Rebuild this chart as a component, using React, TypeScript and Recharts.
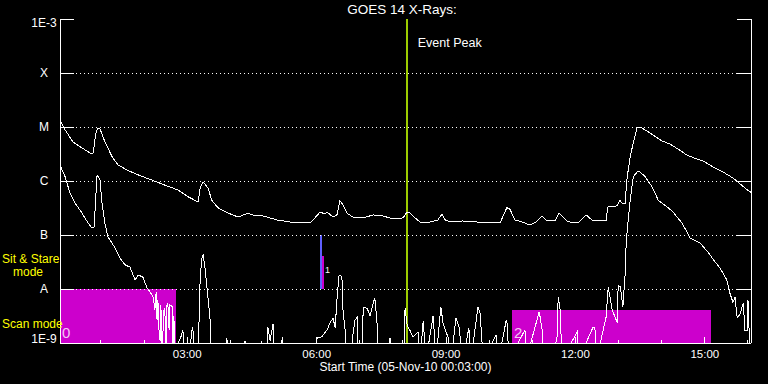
import React from 'react';
import { ComposedChart, Line, XAxis, YAxis, ReferenceArea, ReferenceLine } from 'recharts';

const FONT = '"Liberation Sans", Arial, sans-serif';

// Long channel (1-8 Å) — hours since 05-Nov-10 00:00, flux W/m²
const longTime = [0.07, 0.17, 0.35, 0.56, 0.77, 0.82, 0.88, 0.93, 0.98, 1.09, 1.26, 1.39, 1.6, 1.86, 2.18, 2.48, 2.79, 3.02, 3.25, 3.3, 3.37, 3.48, 3.57, 3.71, 3.95, 4.18, 4.41, 4.57, 4.76, 5.08, 5.38, 5.68, 5.85, 5.96, 6.08, 6.19, 6.24, 6.38, 6.47, 6.54, 6.61, 6.7, 6.84, 7.07, 7.31, 7.54, 7.77, 8.0, 8.1, 8.16, 8.28, 8.4, 8.63, 8.81, 8.91, 8.98, 9.1, 9.39, 9.72, 10.09, 10.25, 10.41, 10.48, 10.6, 10.76, 10.95, 11.09, 11.23, 11.34, 11.53, 11.62, 11.81, 11.95, 12.06, 12.25, 12.38, 12.57, 12.71, 12.75, 12.96, 13.03, 13.08, 13.15, 13.2, 13.27, 13.34, 13.43, 13.5, 13.66, 13.8, 14.01, 14.19, 14.38, 14.59, 14.82, 14.96, 15.19, 15.42, 15.65, 15.82, 16.02, 16.07];
const longFlux = [1.24e-5, 8.8e-6, 5.3e-6, 4.1e-6, 3.2e-6, 3.3e-6, 7.7e-6, 9.6e-6, 9.2e-6, 5.3e-6, 2.8e-6, 2.0e-6, 1.6e-6, 1.3e-6, 1.04e-6, 8.4e-7, 6.8e-7, 5.1e-7, 4.1e-7, 7.4e-7, 9.6e-7, 7.4e-7, 4.4e-7, 3.2e-7, 2.55e-7, 2.15e-7, 2.55e-7, 2.25e-7, 2.25e-7, 1.9e-7, 1.74e-7, 1.67e-7, 1.67e-7, 2.07e-7, 2.67e-7, 2.45e-7, 2.67e-7, 2.15e-7, 2.35e-7, 4.3e-7, 3.6e-7, 2.55e-7, 2.15e-7, 2.07e-7, 2.35e-7, 2.25e-7, 1.98e-7, 2.07e-7, 2.67e-7, 2.55e-7, 2.07e-7, 1.74e-7, 1.74e-7, 1.9e-7, 2.45e-7, 1.9e-7, 1.74e-7, 1.82e-7, 1.74e-7, 1.67e-7, 1.67e-7, 3.2e-7, 3.0e-7, 1.9e-7, 1.74e-7, 1.53e-7, 1.74e-7, 2.25e-7, 1.82e-7, 1.82e-7, 2.55e-7, 1.82e-7, 1.67e-7, 1.67e-7, 2.35e-7, 1.9e-7, 1.82e-7, 1.82e-7, 3.3e-7, 3.45e-7, 4.4e-7, 3.9e-7, 3.9e-7, 1.19e-6, 2.8e-6, 5.1e-6, 9.6e-6, 1.0e-5, 8.4e-6, 7.1e-6, 5.5e-6, 4.84e-6, 3.9e-6, 3.0e-6, 2.55e-6, 2.35e-6, 1.82e-6, 1.47e-6, 1.14e-6, 8.8e-7, 6.5e-7, 6.2e-7];

// Short channel (0.5-4 Å)
const shortTime = [0.07, 0.17, 0.28, 0.4, 0.56, 0.7, 0.79, 0.84, 0.88, 0.91, 0.98, 1.02, 1.09, 1.16, 1.21, 1.33, 1.44, 1.56, 1.67, 1.79, 1.86, 1.97, 2.07, 2.14, 2.21, 2.25, 2.28, 2.3, 2.32, 2.35, 2.37, 2.39, 2.41, 2.46, 2.48, 2.51, 2.53, 2.55, 2.58, 2.6, 2.65, 2.67, 2.69, 2.72, 2.79, 2.86, 2.9, 2.93, 3.07, 3.11, 3.13, 3.16, 3.25, 3.3, 3.34, 3.37, 3.41, 3.48, 3.53, 3.55, 3.9, 3.92, 3.94, 4.32, 4.34, 4.36, 4.71, 4.73, 4.76, 4.85, 4.87, 4.92, 4.99, 5.03, 5.18, 5.2, 5.24, 5.98, 6.01, 6.12, 6.24, 6.31, 6.38, 6.43, 6.47, 6.52, 6.57, 6.59, 6.61, 6.66, 6.7, 6.82, 6.84, 6.89, 6.94, 6.96, 7.05, 7.08, 7.17, 7.24, 7.31, 7.35, 7.4, 7.42, 7.68, 7.7, 7.75, 8.02, 8.05, 8.1, 8.16, 8.23, 8.35, 8.4, 8.47, 8.54, 8.7, 8.77, 8.88, 8.93, 9.05, 9.12, 9.23, 9.3, 9.39, 9.53, 9.58, 9.74, 9.79, 9.86, 10.16, 10.22, 10.39, 10.41, 10.46, 10.83, 10.86, 11.16, 11.23, 11.27, 11.57, 11.6, 11.64, 11.69, 12.04, 12.08, 12.4, 12.45, 12.49, 12.71, 12.76, 12.8, 12.85, 12.92, 12.97, 12.99, 13.04, 13.08, 13.1, 13.15, 13.17, 13.2, 13.27, 13.34, 13.43, 13.5, 13.62, 13.78, 13.92, 14.13, 14.26, 14.47, 14.66, 14.89, 15.07, 15.24, 15.35, 15.42, 15.51, 15.58, 15.65, 15.7, 15.75, 15.82, 15.89, 15.93, 15.98, 16.0, 16.05];
const shortFlux = [1.82e-6, 1.19e-6, 6.0e-7, 3.9e-7, 2.55e-7, 1.67e-7, 1.35e-7, 1.4e-7, 5.1e-7, 1.3e-6, 1.04e-6, 4.1e-7, 1.67e-7, 9.2e-8, 8.1e-8, 5.7e-8, 3.75e-8, 2.8e-8, 2.55e-8, 1.47e-8, 1.82e-8, 1.67e-8, 1.04e-8, 8.8e-9, 7.1e-9, 4.1e-9, 8.8e-9, 2.67e-9, 6.25e-9, 1.4e-9, 1.1e-9, 5.1e-9, 5e-10, 4.1e-9, 4.4e-9, 5e-10, 5.1e-9, 5.5e-9, 1.74e-9, 5.1e-9, 4.7e-9, 5e-10, 3.2e-9, 5e-10, 1.0e-9, 1.35e-9, 1.74e-9, 5e-10, 9e-10, 1.74e-9, 1.98e-9, 5e-10, 5e-10, 1.6e-8, 3.75e-8, 4.27e-8, 2.55e-8, 7.1e-9, 2.67e-9, 5e-10, 5e-10, 1.24e-9, 5e-10, 5e-10, 1.1e-9, 5e-10, 5e-10, 1.1e-9, 5e-10, 5e-10, 1.98e-9, 1.1e-9, 2.25e-9, 5e-10, 5e-10, 1.3e-9, 5e-10, 5e-10, 1.24e-9, 1.3e-9, 1.74e-9, 2.35e-9, 2.9e-9, 1.9e-9, 6.25e-9, 1.82e-8, 1.74e-8, 1.47e-8, 4.1e-9, 1.74e-9, 5e-10, 5e-10, 1.4e-9, 2.67e-9, 3.0e-9, 5e-10, 5e-10, 4.64e-9, 4.4e-9, 3.2e-9, 5.5e-9, 6.8e-9, 2.35e-9, 5e-10, 5e-10, 1.24e-9, 5e-10, 5e-10, 4.4e-9, 2.1e-9, 1.74e-9, 1.3e-9, 1.6e-9, 5e-10, 2.5e-9, 5e-10, 3.2e-9, 5e-10, 4.64e-9, 2.35e-9, 1.24e-9, 5e-10, 2.9e-9, 1.98e-9, 5e-10, 1.9e-9, 5e-10, 4.64e-9, 3.6e-9, 5e-10, 1.4e-9, 5e-10, 2.5e-9, 2.67e-9, 5e-10, 1.74e-9, 5e-10, 3.8e-9, 1.74e-9, 5e-10, 1.1e-9, 7.1e-9, 4.64e-9, 5e-10, 1.6e-9, 5e-10, 1.9e-9, 1.98e-9, 5e-10, 3.0e-9, 1.09e-8, 7.1e-9, 4.1e-9, 3.0e-9, 2.35e-9, 1.19e-8, 1.09e-8, 6.25e-9, 4.64e-9, 1.82e-8, 5.3e-8, 1.24e-7, 4.4e-7, 1.19e-6, 1.47e-6, 1.47e-6, 1.19e-6, 7.7e-7, 4.4e-7, 3.3e-7, 2.67e-7, 1.67e-7, 8.8e-8, 7.1e-8, 4.84e-8, 3.16e-8, 2.45e-8, 1.98e-8, 1.47e-8, 8.4e-9, 5.7e-9, 7.0e-9, 2.9e-9, 3.5e-9, 5.5e-9, 1.74e-9, 1.74e-9, 6.25e-9, 5e-10];

// Axis ticks and labels
const yTicks = [1e-9, 1e-8, 1e-7, 1e-6, 1e-5, 1e-4, 1e-3];
const yLabels = ['1E-9', 'A', 'B', 'C', 'M', 'X', '1E-3'];
const gridLevels = [1e-8, 1e-7, 1e-6, 1e-5, 1e-4];
const xTicks = [1, 2, 3, 4, 5, 6, 7, 8, 9, 10, 11, 12, 13, 14, 15, 16];
const xLabelHours = [3, 6, 9, 12, 15];
const xLabelTexts = ['03:00', '06:00', '09:00', '12:00', '15:00'];
const xDomain = [0.05, 16.07];
const yDomain = [1e-9, 1e-3];

// Scan mode intervals
const scanStart = [0.05, 10.53];
const scanEnd = [2.74, 15.14];
const scanTop = [1e-8, 4.08e-9];
const scanIds = ['0', '2'];

// Sit & Stare interval
const stareStart = [6.078, 6.125];
const stareEnd = [6.125, 6.171];
const stareTop = [1e-7, 4.08e-8];
const stareColors = ['#5f5fff', '#cc00cc'];
const stareIds = ['', '1'];

const eventPeak = 8.09;

const longData = longTime.map((t, i) => ({ t, f: longFlux[i] }));
const shortData = shortTime.map((t, i) => ({ t, f: shortFlux[i] }));

function LeftTick(props: any) {
  const { x, y, index } = props;
  const ty = Math.min(Math.max(y, 23), 339);
  return (
    <g>
      <line x1={x} x2={x + 14} y1={y} y2={y} stroke="#fff" />
      <text x={x - 16} y={ty + 4} textAnchor="middle" fill="#fff" fontSize={12} fontFamily={FONT}>{yLabels[index]}</text>
    </g>
  );
}
function RightTick(props: any) {
  const { x, y } = props;
  return <line x1={x - 14} x2={x} y1={y} y2={y} stroke="#fff" />;
}
function BottomTick(props: any) {
  const { x, y, payload } = props;
  const li = xLabelHours.indexOf(payload.value);
  const major = li >= 0;
  return (
    <g>
      <line x1={x} x2={x} y1={y} y2={y - (major ? 6 : 3)} stroke="#fff" />
      {major && (
        <text x={x} y={y + 15} textAnchor="middle" fill="#fff" fontSize={11.5} fontFamily={FONT}>{xLabelTexts[li]}</text>
      )}
    </g>
  );
}
function TopTick(props: any) {
  const { x, y, payload } = props;
  const major = xLabelHours.indexOf(payload.value) >= 0;
  return <line x1={x} x2={x} y1={y} y2={y + (major ? 6 : 3)} stroke="#fff" />;
}

const ScanLabel = (txt: string) => (props: any) => {
  const vb = props.viewBox || {};
  return (
    <text x={vb.x + 2} y={vb.y + vb.height - 5} fill="#f4c8f4" fontSize={15} fontFamily={FONT}>{txt}</text>
  );
};
const StareLabel = (txt: string) => (props: any) => {
  const vb = props.viewBox || {};
  return (
    <text x={vb.x + vb.width + 1} y={vb.y + 17} fill="#fff" fontSize={9} fontFamily={FONT}>{txt}</text>
  );
};
const EventLabel = (props: any) => {
  const vb = props.viewBox || {};
  return (
    <text x={vb.x + 11} y={vb.y + 28} fill="#fff" fontSize={12.5} fontFamily={FONT}>Event Peak</text>
  );
};

export default function App() {
  return (
    <div style={{ position: 'absolute', left: 0, top: 0, width: 768, height: 384, background: '#000', shapeRendering: 'crispEdges' as any }}>
      <ComposedChart width={768} height={384} margin={{ top: 19, right: 0, bottom: 0, left: 0 }}>
        <XAxis
          xAxisId="b" type="number" dataKey="t" domain={xDomain} allowDataOverflow ticks={xTicks} interval={0}
          height={41} tickSize={0} tickMargin={0} tickLine={false} axisLine={{ stroke: '#fff' }} tick={<BottomTick />}
          label={{ value: 'Start Time (05-Nov-10 00:03:00)', position: 'insideBottom', offset: 13, fill: '#fff', fontSize: 12, fontFamily: FONT }}
        />
        <XAxis
          xAxisId="t" orientation="top" type="number" dataKey="t" domain={xDomain} allowDataOverflow ticks={xTicks} interval={0}
          height={0} tickSize={0} tickMargin={0} tickLine={false} axisLine={{ stroke: '#fff' }} tick={<TopTick />}
        />
        <YAxis
          yAxisId="l" type="number" scale="log" domain={yDomain} allowDataOverflow ticks={yTicks} interval={0}
          width={60} tickSize={0} tickMargin={0} tickLine={false} axisLine={{ stroke: '#fff' }} tick={<LeftTick />}
        />
        <YAxis
          yAxisId="r" orientation="right" type="number" scale="log" domain={yDomain} allowDataOverflow ticks={yTicks} interval={0}
          width={17} tickSize={0} tickMargin={0} tickLine={false} axisLine={{ stroke: '#fff' }} tick={<RightTick />}
        />
        {gridLevels.map((g) => (
          <ReferenceLine key={'g' + g} xAxisId="b" yAxisId="l" y={g} stroke="#ffffff" strokeWidth={1} strokeDasharray="1 3" />
        ))}
        {scanStart.map((s, i) => (
          <ReferenceArea key={'scan' + i} xAxisId="b" yAxisId="l" x1={s} x2={scanEnd[i]} y1={yDomain[0]} y2={scanTop[i]}
            fill="#cc00cc" fillOpacity={1} stroke="none" label={ScanLabel(scanIds[i])} />
        ))}
        {stareStart.map((s, i) => (
          <ReferenceArea key={'stare' + i} xAxisId="b" yAxisId="l" x1={s} x2={stareEnd[i]} y1={1e-8} y2={stareTop[i]}
            fill={stareColors[i]} fillOpacity={1} stroke="none" label={StareLabel(stareIds[i])} />
        ))}
        <ReferenceLine xAxisId="b" yAxisId="l" x={eventPeak} stroke="#9ccc00" strokeWidth={2.5} label={EventLabel} />
        <Line xAxisId="b" yAxisId="l" data={longData} dataKey="f" type="linear" stroke="#fff" strokeWidth={1} dot={false} isAnimationActive={false} />
        <Line xAxisId="b" yAxisId="l" data={shortData} dataKey="f" type="linear" stroke="#fff" strokeWidth={1} dot={false} isAnimationActive={false} />
      </ComposedChart>
      <svg width={768} height={384} style={{ position: 'absolute', left: 0, top: 0, pointerEvents: 'none' }}>
        <text x={402} y={14} textAnchor="middle" fill="#fff" fontSize={13.5} fontFamily={FONT}>GOES 14 X-Rays:</text>
        <text x={2} y={263} fill="#ffff00" fontSize={12} fontFamily={FONT}>Sit &amp; Stare</text>
        <text x={13} y={276} fill="#ffff00" fontSize={12} fontFamily={FONT}>mode</text>
        <text x={2} y={328} fill="#ffff00" fontSize={12} fontFamily={FONT}>Scan mode</text>
      </svg>
    </div>
  );
}
